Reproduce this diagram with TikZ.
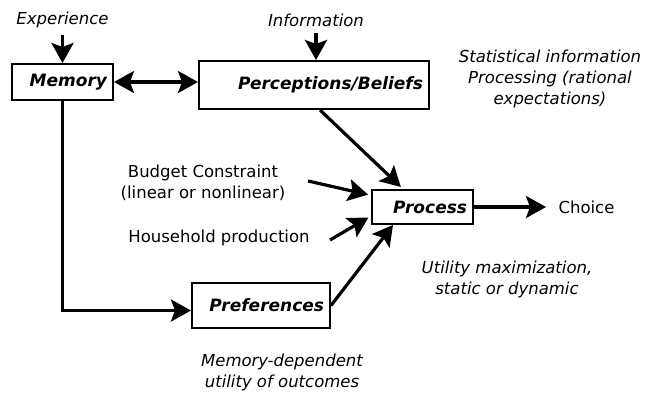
\documentclass[tikz,border=0pt]{standalone}
\usepackage{fontspec}
\setmainfont{DejaVu Sans}
\usetikzlibrary{calc, arrows.meta}

\begin{document}
\begin{tikzpicture}[x=1pt, y=-1pt,
		every node/.style={font=\fontsize{16.5}{21}\selectfont},
		stagebox/.style={draw, line width=2pt, inner xsep=6pt, align=right,
				font=\fontsize{17}{21}\selectfont\bfseries\itshape},
		note/.style={align=center, font=\fontsize{16.5}{21}\selectfont\itshape},
		plain/.style={align=center},
		>={Stealth[length=20pt, width=22pt, inset=4pt]},
		flow/.style={line width=3.2pt, ->}]
	\useasboundingbox (0, 0) rectangle (657, 392);

	% stages
	\node[stagebox, text width=89pt, minimum height=36pt] (mem) at (62.5, 82) {Memory};
	\node[stagebox, text width=218pt, minimum height=48pt] (perc) at (314, 85) {Perceptions/Beliefs};
	\node[stagebox, text width=89pt, minimum height=34pt] (proc) at (422.5, 207) {Process};
	\node[stagebox, text width=126pt, minimum height=45pt] (pref) at (261, 305.5) {Preferences};

	% texts
	\node[note] (exp) at (62.5, 20) {Experience};
	\node[note] (info) at (316, 20) {Information};
	\node[note] (stat) at (550, 79) {Statistical information\\Processing (rational\\expectations)};
	\node[plain] (budget) at (203, 183) {Budget Constraint\\(linear or nonlinear)};
	\node[plain] (house) at (219, 238) {Household production};
	\node[plain, anchor=west] (choice) at (555, 207) {Choice};
	\node[note] (util) at (507, 279) {Utility maximization,\\static or dynamic};
	\node[note] (memdep) at (282, 372) {Memory-dependent\\utility of outcomes};

	\coordinate (bc) at (308, 181);
	\coordinate (hp) at (330, 240);

	% connectors
	\draw[flow, shorten <=3pt] (exp.south) -- (mem.north);
	\draw[flow, shorten <=3pt] (info.south) -- (info.south |- perc.north);
	\draw[flow, <->] (mem.east) -- (mem.east -| perc.west);
	\draw[flow] (mem.south) |- ([yshift=-5pt]pref.west);
	\draw[flow, shorten >=3pt] ([xshift=6pt]perc.south) -- ([xshift=32pt]proc.north west);
	\draw[flow, shorten >=3pt] (bc) -- (proc);
	\draw[flow, shorten >=3pt] (hp) -- ([yshift=9pt]proc.south west);
	\draw[flow] (pref.east) -- ([xshift=22pt]proc.south west);
	\draw[flow, shorten >=9pt] (proc.east) -- (choice.west);
\end{tikzpicture}
\end{document}
